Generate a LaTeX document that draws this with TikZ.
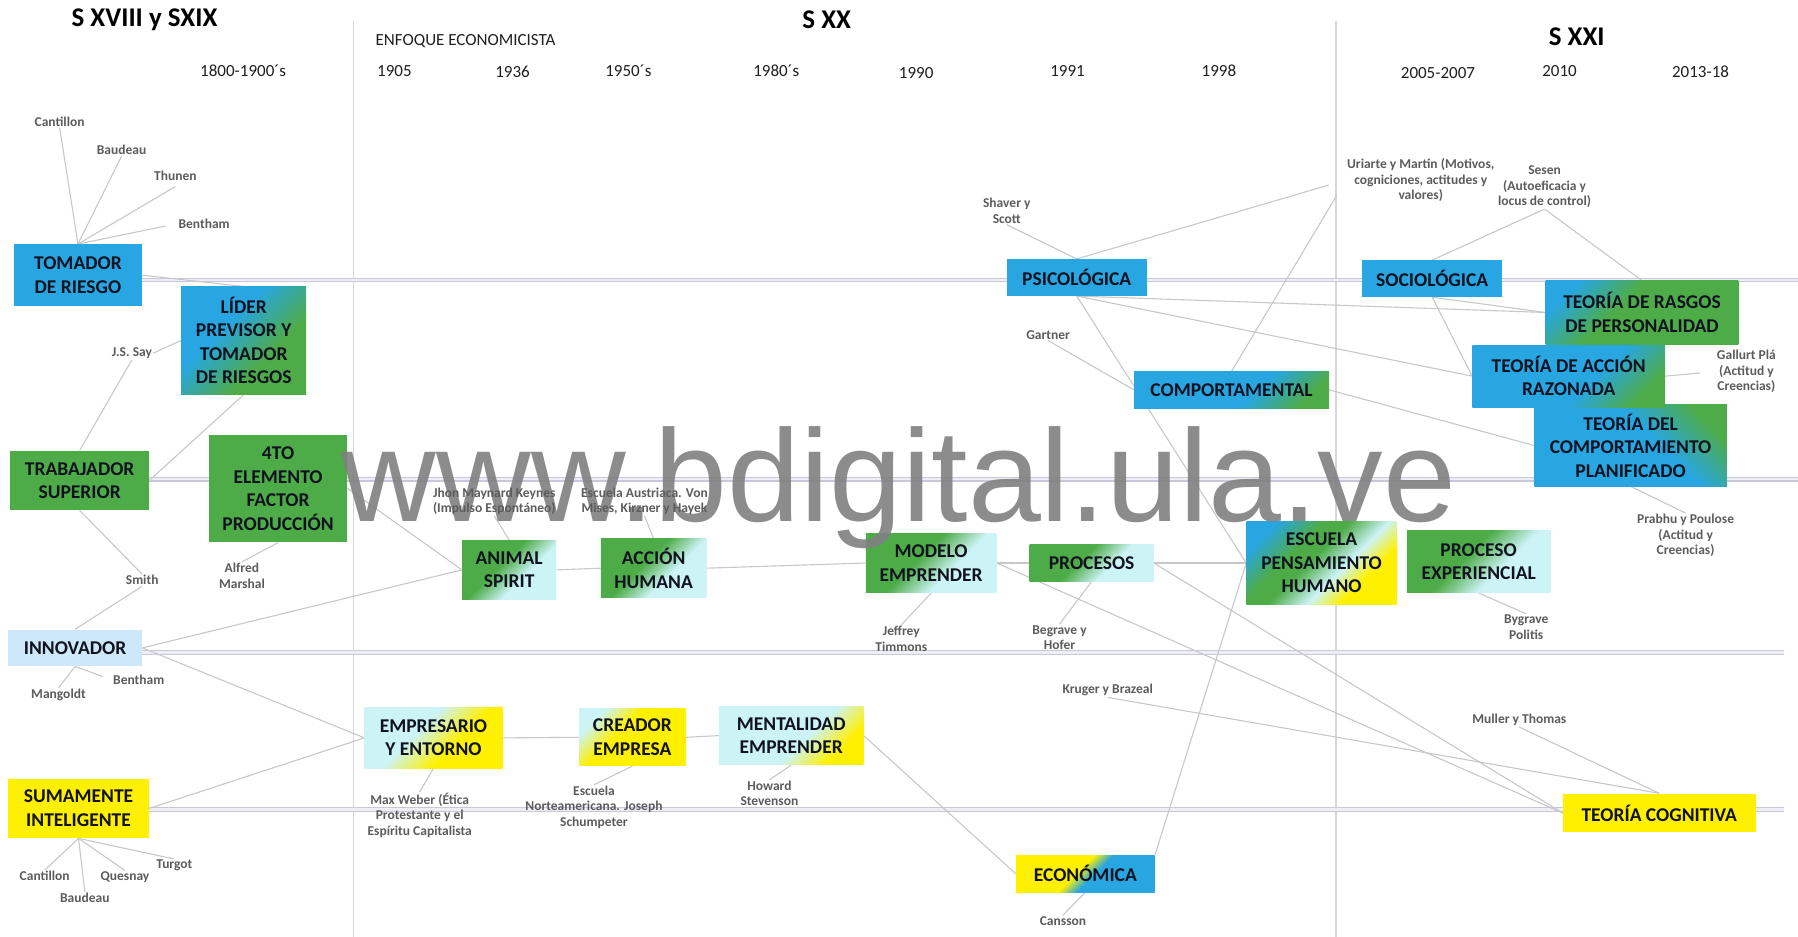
\documentclass[tikz,border=0pt]{standalone}
\usepackage{fontspec}
\setmainfont{Carlito}
\newfontfamily\wmfont{Liberation Sans}
\pgfdeclarelayer{bg}
\pgfsetlayers{bg,main}

\definecolor{cblue}{RGB}{39,166,225}
\definecolor{cgreen}{RGB}{78,172,72}
\definecolor{ccyan}{RGB}{204,243,246}
\definecolor{clblue}{RGB}{205,232,250}
\definecolor{cyellow}{RGB}{255,240,0}
\definecolor{ctext}{RGB}{16,18,32}
\definecolor{clabel}{RGB}{92,92,92}
\definecolor{cconn}{RGB}{200,200,204}
\definecolor{cband}{RGB}{200,200,218}
\definecolor{cbandin}{RGB}{238,238,245}
\definecolor{cvert}{RGB}{214,214,220}
\definecolor{cwm}{RGB}{128,128,128}

% diagonal fills of the boxes
\pgfdeclarehorizontalshading{shGC}{100bp}{color(0bp)=(cgreen); color(44bp)=(cgreen); color(60bp)=(ccyan); color(100bp)=(ccyan)}
\pgfdeclarehorizontalshading{shBG}{100bp}{color(0bp)=(cblue); color(40bp)=(cblue); color(62bp)=(cgreen); color(100bp)=(cgreen)}
\pgfdeclarehorizontalshading{shBGlate}{100bp}{color(0bp)=(cblue); color(58bp)=(cblue); color(76bp)=(cgreen); color(100bp)=(cgreen)}
\pgfdeclarehorizontalshading{shRas}{100bp}{color(0bp)=(cblue); color(24bp)=(cblue); color(42bp)=(cgreen); color(100bp)=(cgreen)}
\pgfdeclarehorizontalshading{shEcon}{100bp}{color(0bp)=(cyellow); color(46bp)=(cyellow); color(54bp)=(cblue); color(100bp)=(cblue)}
\pgfdeclarehorizontalshading{shCY}{100bp}{color(0bp)=(ccyan); color(42bp)=(ccyan); color(60bp)=(cyellow); color(100bp)=(cyellow)}
\pgfdeclarehorizontalshading{shCYearly}{100bp}{color(0bp)=(ccyan); color(26bp)=(ccyan); color(42bp)=(cyellow); color(100bp)=(cyellow)}
\pgfdeclarehorizontalshading{shCYlate}{100bp}{color(0bp)=(ccyan); color(56bp)=(ccyan); color(72bp)=(cyellow); color(100bp)=(cyellow)}
\pgfdeclarehorizontalshading{shEsc}{100bp}{color(0bp)=(cblue); color(24bp)=(cblue); color(38bp)=(cgreen); color(46bp)=(cgreen); color(58bp)=(ccyan); color(68bp)=(cyellow); color(100bp)=(cyellow)}

\tikzset{
  box/.style={inner sep=0pt, align=center, text=ctext, font=\bfseries\fontsize{19.5}{23.5}\selectfont},
  sz/.style 2 args={minimum width=#1*1.1467pt, minimum height=#2*1.1467pt},
  flat/.style={box, fill=#1},
  % grad runs top-left to bottom-right, gradup bottom-left to top-right
  grad/.style={box, shade, shading=#1, shading angle=-45},
  gradup/.style={box, shade, shading=#1, shading angle=45},
  lbl/.style={inner sep=1pt, align=center, text=clabel, font=\bfseries\fontsize{13.5}{15.5}\selectfont},
  yr/.style={inner sep=0pt, text=black!88, font=\fontsize{17}{20}\selectfont},
  era/.style={inner sep=0pt, text=black, font=\bfseries\fontsize{27}{32}\selectfont},
  conn/.style={draw=cconn, line width=1.1pt},
  band/.style={draw=cband, line width=1.1pt, double=cbandin, double distance=2.2pt},
  vrule/.style={draw=cvert, line width=1.3pt},
  wm/.style={inner sep=0pt, text=cwm, text opacity=0.9, font=\wmfont\fontsize{131}{131}\selectfont}
}

\begin{document}
\begin{tikzpicture}[x=1.1467pt, y=-1.1467pt]
\begin{pgfonlayer}{bg}
  \fill[white] (0,0) rectangle (1568,817);
\end{pgfonlayer}
\useasboundingbox (0,0) rectangle (1568,817);

% ---- era headings and years
\node[era] (era1) at (126,17) {S XVIII y SXIX};
\node[era] (era2) at (721,17) {S XX};
\node[era] (era3) at (1375,32) {S XXI};
\node[yr] (enfoque) at (406,36) {ENFOQUE ECONOMICISTA};
\node[yr] (y1800) at (212,62) {1800-1900´s};
\node[yr] (y1905) at (344,62) {1905};
\node[yr] (y1936) at (447,63) {1936};
\node[yr] (y1950) at (548,62) {1950´s};
\node[yr] (y1980) at (677,62) {1980´s};
\node[yr] (y1990) at (799,64) {1990};
\node[yr] (y1991) at (931,62) {1991};
\node[yr] (y1998) at (1063,62) {1998};
\node[yr] (y2005) at (1254,64) {2005-2007};
\node[yr] (y2010) at (1360,62) {2010};
\node[yr] (y2013) at (1483,63) {2013-18};

% ---- concept boxes
\node[flat=cblue, sz={112}{54}] (tomador) at (68,240) {TOMADOR\\DE RIESGO};
\node[grad=shBG, sz={109}{94}] (lider) at (212.5,297) {LÍDER\\PREVISOR Y\\TOMADOR\\DE RIESGOS};
\node[flat=cgreen, sz={121}{52}] (trabajador) at (69.5,419) {TRABAJADOR\\SUPERIOR};
\node[flat=cgreen, sz={121}{94}] (cuarto) at (242.5,426) {4TO\\ELEMENTO\\FACTOR\\PRODUCCIÓN};
\node[flat=clblue, sz={117}{32}] (innovador) at (65.5,565) {INNOVADOR};
\node[flat=cyellow, sz={123}{52}] (sumamente) at (68.5,705) {SUMAMENTE\\INTELIGENTE};
\node[grad=shGC, sz={82}{52}] (animal) at (444,497) {ANIMAL\\SPIRIT};
\node[grad=shGC, sz={92}{51}] (accion) at (570,495.5) {ACCIÓN\\HUMANA};
\node[grad=shGC, sz={114}{52}] (modelo) at (812,491) {MODELO\\EMPRENDER};
\node[grad=shGC, sz={108}{32}] (procesos) at (952,491) {PROCESOS};
\node[grad=shEsc, sz={131}{72}] (escuela) at (1152.5,491) {ESCUELA\\PENSAMIENTO\\HUMANO};
\node[grad=shGC, sz={125}{54}] (experiencial) at (1289.5,490) {PROCESO\\EXPERIENCIAL};
\node[grad=shCY, sz={120}{53}] (empresario) at (378,643.5) {EMPRESARIO\\Y ENTORNO};
\node[grad=shCYearly, sz={93}{50}] (creador) at (551.5,643) {CREADOR\\EMPRESA};
\node[grad=shCYlate, sz={126}{51}] (mentalidad) at (690,641.5) {MENTALIDAD\\EMPRENDER};
\node[grad=shEcon, sz={121}{32}] (economica) at (946.5,762) {ECONÓMICA};
\node[flat=cblue, sz={122}{32}] (psico) at (939,242) {PSICOLÓGICA};
\node[flat=cblue, sz={122}{32}] (socio) at (1249,243) {SOCIOLÓGICA};
\node[grad=shBGlate, sz={170}{32}] (compor) at (1074,340) {COMPORTAMENTAL};
\node[grad=shRas, sz={168}{55}] (rasgos) at (1432,272.5) {TEORÍA DE RASGOS\\DE PERSONALIDAD};
\node[gradup=shBGlate, sz={168}{71}] (planif) at (1422,388.5) {TEORÍA DEL\\COMPORTAMIENTO\\PLANIFICADO};
\node[grad=shBGlate, sz={168}{54}] (razonada) at (1368,328) {TEORÍA DE ACCIÓN\\RAZONADA};
\node[flat=cyellow, sz={168}{34}] (cognitiva) at (1447,709) {TEORÍA COGNITIVA};

% ---- site stamp across the middle
\node[wm, anchor=base] (stamp) at (784,455) {www.bdigital.ula.ve};

% ---- author labels
\node[lbl] (l-cant1) at (52,106) {Cantillon};
\node[lbl] (l-baud1) at (106,131) {Baudeau};
\node[lbl] (l-thun) at (153,153) {Thunen};
\node[lbl] (l-bent1) at (178,195) {Bentham};
\node[lbl] (l-say) at (115,308) {J.S. Say};
\node[lbl] (l-smith) at (124,506) {Smith};
\node[lbl] (l-marshal) at (211,502) {Alfred\\Marshal};
\node[lbl] (l-mang) at (51,606) {Mangoldt};
\node[lbl] (l-bent2) at (121,593) {Bentham};
\node[lbl] (l-cant2) at (39,764) {Cantillon};
\node[lbl] (l-baud2) at (74,783) {Baudeau};
\node[lbl] (l-ques) at (109,765) {Quesnay};
\node[lbl] (l-turg) at (152,755) {Turgot};
\node[lbl] (l-weber) at (366,711) {Max Weber (Ética\\Protestante y el\\Espíritu Capitalista};
\node[lbl] (l-escnorte) at (518,704) {Escuela\\Norteamericana. Joseph\\Schumpeter};
\node[lbl] (l-howard) at (671,692) {Howard\\Stevenson};
\node[lbl] (l-keynes) at (431,437) {Jhon Maynard Keynes\\(Impulso Espontáneo)};
\node[lbl] (l-austr) at (562,437) {Escuela Austriaca. Von\\Mises, Kirzner y Hayek};
\node[lbl] (l-jeff) at (786,557) {Jeffrey\\Timmons};
\node[lbl] (l-begr) at (924,556) {Begrave y\\Hofer};
\node[lbl] (l-kruger) at (966,602) {Kruger y Brazeal};
\node[lbl] (l-cansson) at (927,803) {Cansson};
\node[lbl] (l-shaver) at (878,184) {Shaver y\\Scott};
\node[lbl] (l-gartner) at (914,292) {Gartner};
\node[lbl] (l-uriarte) at (1239,157) {Uriarte y Martin (Motivos,\\cogniciones, actitudes y\\valores)};
\node[lbl] (l-sesen) at (1347,163) {Sesen\\(Autoeficacia y\\locus de control)};
\node[lbl] (l-gallurt) at (1523,324) {Gallurt Plá\\(Actitud y\\Creencias)};
\node[lbl] (l-prabhu) at (1470,467) {Prabhu y Poulose\\(Actitud y\\Creencias)};
\node[lbl] (l-bygrave) at (1331,547) {Bygrave\\Politis};
\node[lbl] (l-muller) at (1325,628) {Muller y Thomas};

\begin{pgfonlayer}{bg}
  % era separators
  \coordinate (sepA-top) at (308,18);  \coordinate (sepA-bot) at (308,817);
  \coordinate (sepB-top) at (1165,18); \coordinate (sepB-bot) at (1165,817);
  \draw[vrule] (sepA-top) -- (sepA-bot);
  \draw[vrule] (sepB-top) -- (sepB-bot);
  % timeline bands
  \coordinate (b1e) at (1568,244);
  \coordinate (b2e) at (1568,418);
  \coordinate (b3e) at (1556,569);
  \coordinate (b4e) at (1556,706);
  \draw[band] (tomador.east |- b1e) -- (b1e);
  \draw[band] (trabajador.east |- b2e) -- (b2e);
  \draw[band] (innovador.east |- b3e) -- (b3e);
  \draw[band] (sumamente.east |- b4e) -- (b4e);

  % connectors, left group
  \draw[conn] (tomador.north) -- (l-cant1.south);
  \draw[conn] (tomador.north) -- (l-baud1.south);
  \draw[conn] (tomador.north) -- ([yshift=-5pt]l-thun.south);
  \draw[conn, shorten >=12pt] (tomador.north) -- (l-bent1.west);
  \draw[conn] (tomador.east) -- (lider.north);
  \draw[conn] (trabajador.north) -- (l-say.south);
  \draw[conn] (l-say.east) -- (lider.west);
  \draw[conn] (trabajador.east) -- (lider.south);
  \draw[conn] (trabajador.south) -- (l-smith.north);
  \draw[conn] (l-smith.south) -- (innovador.north);
  \draw[conn] (cuarto.south) -- (l-marshal.north);
  \draw[conn] (cuarto.east) -- (animal.west);
  \draw[conn] (innovador.east) -- (animal.west);
  \draw[conn] (innovador.east) -- (empresario.west);
  \draw[conn] (sumamente.east) -- (empresario.west);
  \draw[conn] (innovador.south) -- (l-mang.north);
  \draw[conn, shorten >=10pt] (innovador.south) -- (l-bent2.west);
  \draw[conn] (sumamente.south) -- (l-cant2.north);
  \draw[conn] (sumamente.south) -- (l-baud2.north);
  \draw[conn] (sumamente.south) -- (l-ques.north);
  \draw[conn] (sumamente.south) -- (l-turg.north);

  % connectors, economic approach
  \draw[conn] (empresario.south) -- (l-weber.north);
  \draw[conn] (empresario.east) -- (creador.west);
  \draw[conn] (creador.south) -- (l-escnorte.north);
  \draw[conn] (creador.east) -- (mentalidad.west);
  \draw[conn] (mentalidad.south) -- (l-howard.north);
  \draw[conn] (mentalidad.east) -- (economica.west);
  \draw[conn] (economica.south) -- (l-cansson.north);
  \draw[conn] (economica.north east) -- (escuela.west);
  \draw[conn] (animal.north) -- (l-keynes.south);
  \draw[conn] (accion.north) -- (l-austr.south);
  \draw[conn] (animal.east) -- (accion.west);
  \draw[conn] (accion.east) -- (modelo.west);
  \draw[conn] (modelo.east) -- (procesos.west);
  \draw[conn] (modelo.south) -- (l-jeff.north);
  \draw[conn] (procesos.south) -- (l-begr.north);
  \draw[conn] (procesos.east) -- (escuela.west);
  \draw[conn] (modelo.east) -- (cognitiva.west);
  \draw[conn] (procesos.east) -- (cognitiva.west);
  \draw[conn] (l-kruger.south) -- (cognitiva.north);
  \draw[conn] (l-muller.south) -- (cognitiva.north);

  % connectors, psychological and social approaches
  \draw[conn] (l-shaver.south) -- (psico.north);
  \draw[conn, shorten >=18pt] (psico.north) -- (l-uriarte.west);
  \draw[conn, shorten >=18pt] (compor.north) -- (l-uriarte.west);
  \draw[conn] (psico.south) -- (escuela.west);
  \draw[conn] (psico.south) -- (rasgos.west);
  \draw[conn] (psico.south) -- (razonada.west);
  \draw[conn] (l-gartner.south) -- (compor.west);
  \draw[conn] (compor.east) -- (planif.west);
  \draw[conn] (socio.north) -- (l-sesen.south);
  \draw[conn] (l-sesen.south) -- (rasgos.north);
  \draw[conn] (socio.south) -- (rasgos.west);
  \draw[conn] (socio.south) -- (razonada.west);
  \draw[conn, shorten >=16pt] (razonada.east) -- (l-gallurt.west);
  \draw[conn] (planif.south) -- (l-prabhu.north);
  \draw[conn] (experiencial.south) -- (l-bygrave.north);
\end{pgfonlayer}
\end{tikzpicture}
\end{document}
